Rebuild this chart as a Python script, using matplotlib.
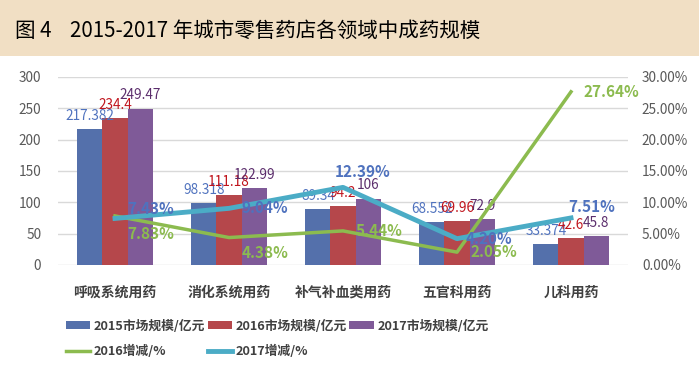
import numpy as np
import matplotlib.pyplot as plt
from matplotlib.patches import Rectangle

plt.rcParams['font.family'] = ['Noto Sans CJK SC', 'DejaVu Sans']

categories = ['呼吸系统用药', '消化系统用药', '补气补血类用药', '五官科用药', '儿科用药']
size_2015 = [217.382, 98.318, 89.34, 68.552, 33.374]
size_2016 = [234.4, 111.18, 94.2, 69.96, 42.6]
size_2017 = [249.47, 122.99, 106, 72.9, 45.8]
growth_2016 = [7.83, 4.38, 5.44, 2.05, 27.64]
growth_2017 = [7.43, 9.04, 12.39, 4.20, 7.51]

bar_colors = ['#5470ab', '#b5474b', '#7f5a98']
label_colors = ['#4f72be', '#c0141c', '#5b2d6c']
green = '#8cbb4f'
teal = '#4bacc6'
txt = '#404040'

fig = plt.figure(figsize=(6.99, 3.84), dpi=100)
fig.patch.set_facecolor('white')
# beige title band
fig.patches.append(Rectangle((0, 1 - 56 / 384), 1, 56 / 384, transform=fig.transFigure,
                             facecolor='#f1dfc4', edgecolor='none', zorder=0))
fig.text(15 / 699, 1 - 31 / 384, '图 4    2015-2017 年城市零售药店各领域中成药规模',
         fontsize=14.8, color='black', va='center', ha='left')

ax = fig.add_axes([58 / 699, 1 - 265 / 384, 570 / 699, 188 / 384])
x = np.arange(len(categories))
w = 0.22
bars = []
for i, (vals, lab) in enumerate(zip([size_2015, size_2016, size_2017],
                                    ['2015市场规模/亿元', '2016市场规模/亿元', '2017市场规模/亿元'])):
    b = ax.bar(x + (i - 1) * w, vals, w, color=bar_colors[i], label=lab, zorder=2)
    bars.append(b)
    for xi, v in zip(x + (i - 1) * w, vals):
        ax.annotate(f'{v:g}', (xi, v), xytext=(0, 4.5), textcoords='offset points',
                    ha='center', va='bottom', fontsize=9.8, color=label_colors[i], zorder=5)

ax.set_xlim(-0.5, len(categories) - 0.5)
ax.set_ylim(0, 300)
ax.set_yticks(range(0, 301, 50))
ax.grid(axis='y', color='#d9d9d9', linewidth=1, zorder=0)
ax.set_axisbelow(True)
for s in ax.spines.values():
    s.set_visible(False)
ax.tick_params(axis='y', length=0, labelsize=9.8, labelcolor='#595959', pad=12)
ax.tick_params(axis='x', length=0, pad=15)
ax.set_xticks(x)
ax.set_xticklabels(categories, fontsize=10, fontweight='bold', color=txt)

ax2 = ax.twinx()
ax2.set_ylim(0, 30)
ax2.set_yticks(range(0, 31, 5))
ax2.set_yticklabels([f'{v:.2f}%' for v in range(0, 31, 5)])
for s in ax2.spines.values():
    s.set_visible(False)
ax2.tick_params(axis='y', length=0, labelsize=9.8, labelcolor='#595959', pad=10)

l16, = ax2.plot(x, growth_2016, color=green, linewidth=2.5, label='2016增减/%', zorder=3)
l17, = ax2.plot(x, growth_2017, color=teal, linewidth=3.5, label='2017增减/%', zorder=3)

# percentage label offsets (points)
off16 = [(9, -13), (9, -11), (9, 0), (10, 0), (9, 0)]
off17 = [(9, 7), (9, 0), (-6, 11), (6, 0), (-2, 8)]
for xi, v, o in zip(x, growth_2016, off16):
    ax2.annotate(f'{v:.2f}%', (xi, v), xytext=o, textcoords='offset points',
                 ha='left', va='center', fontsize=11, fontweight='bold', color=green, zorder=6)
for xi, v, o in zip(x, growth_2017, off17):
    ax2.annotate(f'{v:.2f}%', (xi, v), xytext=o, textcoords='offset points',
                 ha='left', va='center', fontsize=11, fontweight='bold', color='#4f72be', zorder=6)

handles = [bars[0], l16, bars[1], l17, bars[2]]
labels = [h.get_label() for h in handles]
leg = fig.legend(handles, labels, ncol=3, loc='upper left',
                 bbox_to_anchor=(54 / 699, 1 - 308 / 384), frameon=False,
                 prop={'size': 9.2, 'weight': 'bold'}, handlelength=1.9, handleheight=0.6,
                 handletextpad=0.3, columnspacing=0.2, labelspacing=0.95)
for t in leg.get_texts():
    t.set_color(txt)

fig.savefig('out.png', dpi=100)
